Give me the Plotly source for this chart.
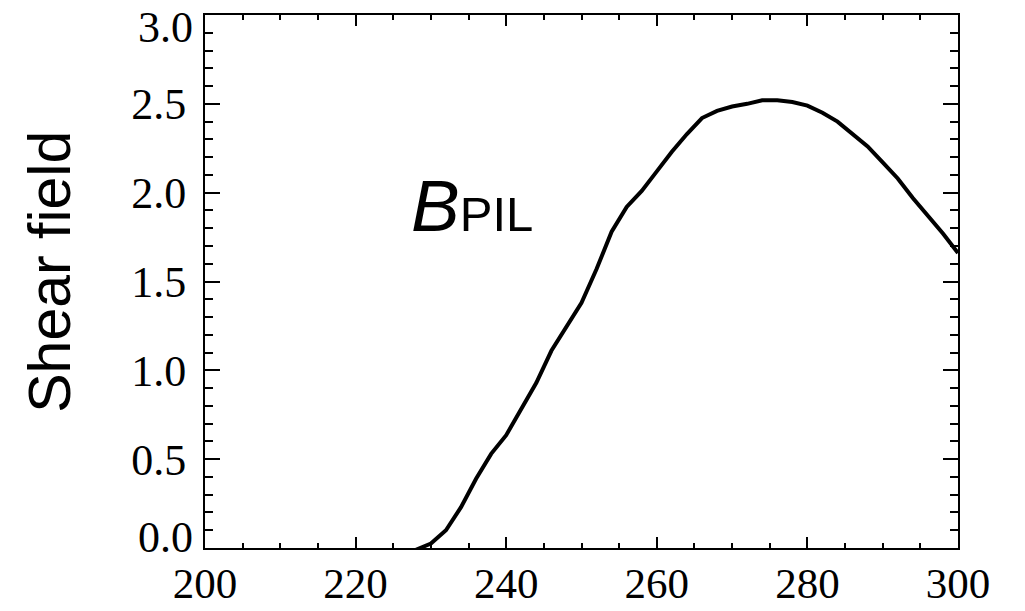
import plotly.graph_objects as go

# Shear field along the polarity inversion line
time = [228, 230, 232, 234, 236, 238, 240, 242, 244, 246, 248, 250, 252, 254,
        256, 258, 260, 262, 264, 266, 268, 270, 272, 274, 276, 278, 280, 282,
        284, 286, 288, 290, 292, 294, 296, 298, 300]
shear = [-0.01, 0.025, 0.10, 0.23, 0.39, 0.53, 0.635, 0.78, 0.93, 1.11, 1.25,
         1.38, 1.57, 1.78, 1.92, 2.01, 2.12, 2.23, 2.33, 2.42, 2.46, 2.485,
         2.50, 2.52, 2.52, 2.51, 2.49, 2.45, 2.40, 2.33, 2.26, 2.17, 2.08,
         1.97, 1.87, 1.77, 1.66]

x_ticks = [200, 220, 240, 260, 280, 300]
y_ticks = [0.5, 1.0, 1.5, 2.0, 2.5]
y_end_ticks = [0.0, 3.0]

serif = "Liberation Serif"
sans = "Liberation Sans"

fig = go.Figure()
fig.add_trace(go.Scatter(x=time, y=shear, mode="lines",
                         line=dict(color="black", width=4),
                         showlegend=False, hoverinfo="skip"))

axis_common = dict(showline=True, linecolor="black", linewidth=2,
                   mirror="ticks", ticks="inside", tickcolor="black",
                   tickwidth=2, showgrid=False, zeroline=False,
                   automargin=False)

fig.update_xaxes(range=[200, 300], tickvals=x_ticks,
                 ticktext=[str(v) for v in x_ticks], ticklen=11,
                 minor=dict(dtick=5, ticks="inside", ticklen=5,
                            tickwidth=2, tickcolor="black", showgrid=False),
                 ticklabelstandoff=-4,
                 tickfont=dict(family=serif, size=43, color="black"),
                 **axis_common)
fig.update_yaxes(range=[0, 3], tickvals=y_ticks,
                 ticktext=[f"{v:.1f}" for v in y_ticks], ticklen=15,
                 minor=dict(dtick=0.1, ticks="inside", ticklen=8,
                            tickwidth=2, tickcolor="black", showgrid=False),
                 ticklabelstandoff=8,
                 tickfont=dict(family=serif, size=44, color="black"),
                 **axis_common)

annotations = []
# end labels of the y axis sit just inside the frame
for v, shift in zip(y_end_ticks, [11, -12]):
    annotations.append(dict(x=0, xref="paper", y=v, yref="y",
                            text=f"{v:.1f}", showarrow=False,
                            xanchor="right", yanchor="middle",
                            xshift=-10, yshift=shift,
                            font=dict(family=serif, size=44, color="black")))
# axis title
annotations.append(dict(x=-0.206, xref="paper", y=0.518, yref="paper",
                        text="Shear field", textangle=-90, showarrow=False,
                        xanchor="center", yanchor="middle",
                        font=dict(family=sans, size=59, color="black")))
# curve label
annotations.append(dict(x=235.4, xref="x", y=1.93, yref="y",
                        text="<i>B</i><span style='font-size:49px'>PIL</span>",
                        showarrow=False, xanchor="center", yanchor="middle",
                        font=dict(family=sans, size=73, color="black")))

fig.update_layout(width=1025, height=611,
                  margin=dict(l=205, r=67, t=15, b=63),
                  paper_bgcolor="white", plot_bgcolor="white",
                  annotations=annotations)

fig.write_html("out.html")
